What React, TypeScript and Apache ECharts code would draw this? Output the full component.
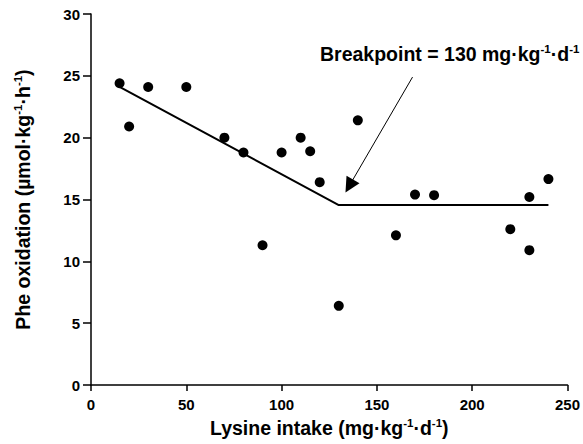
import React, { useEffect, useRef } from "react";
import * as echarts from "echarts";

const lysineIntake = [15, 20, 30, 50, 70, 80, 90, 100, 110, 115, 120, 130, 140, 160, 170, 180, 220, 230, 230, 240];
const pheOxidation = [24.4, 20.9, 24.1, 24.1, 20.0, 18.8, 11.3, 18.8, 20.0, 18.9, 16.4, 6.4, 21.4, 12.1, 15.4, 15.35, 12.6, 15.2, 10.9, 16.65];
const fitX = [15, 130, 240];
const fitY = [24.1, 14.55, 14.55];
const arrowFrom = [168.7, 24.9];
const arrowTo = [135.5, 16.1];
const xTicks = [0, 250, 50];
const yTicks = [0, 30, 5];

const FONT = "Liberation Sans";
const TITLE_SIZE = 19.5;
const richStyles = {
  m: { fontFamily: FONT, fontWeight: "bold", fontSize: TITLE_SIZE, color: "#000", lineHeight: 22, verticalAlign: "middle" },
  s: { fontFamily: FONT, fontWeight: "bold", fontSize: 11.5, color: "#000", lineHeight: 11, verticalAlign: "top" },
};

export default function App() {
  const ref = useRef<HTMLDivElement>(null);
  useEffect(() => {
    if (!ref.current) return;
    const chart = echarts.init(ref.current, null, { renderer: "svg" });
    const axisCommon = {
      axisLine: { show: true, lineStyle: { color: "#000", width: 1.5 } },
      splitLine: { show: false },
      nameTextStyle: { fontFamily: FONT, fontWeight: "bold", fontSize: TITLE_SIZE, color: "#000", rich: richStyles },
    };
    chart.setOption({
      animation: false,
      grid: { left: 91, right: 15, top: 14, bottom: 59 },
      xAxis: {
        ...axisCommon,
        type: "value",
        min: xTicks[0],
        max: xTicks[1],
        interval: xTicks[2],
        name: "{m|Lysine intake (mg·kg}{s|-1}{m|·d}{s|-1}{m|)}",
        nameLocation: "middle",
        nameGap: 31,
        axisTick: { show: true, length: 6, lineStyle: { color: "#000", width: 1.5 } },
        axisLabel: { fontFamily: FONT, fontWeight: "bold", fontSize: 15, color: "#000", margin: 12 },
      },
      yAxis: {
        ...axisCommon,
        type: "value",
        min: yTicks[0],
        max: yTicks[1],
        interval: yTicks[2],
        name: "{m|Phe oxidation (µmol·kg}{s|-1}{m|·h}{s|-1}{m|)}",
        nameLocation: "middle",
        nameRotate: 90,
        nameGap: 57,
        axisTick: { show: true, length: 8, lineStyle: { color: "#000", width: 1.5 } },
        axisLabel: { fontFamily: FONT, fontWeight: "bold", fontSize: 15, color: "#000", margin: 11 },
      },
      series: [
        {
          type: "line",
          data: fitX.map((x, i) => [x, fitY[i]]),
          symbol: "none",
          lineStyle: { color: "#000", width: 2 },
          silent: true,
          markLine: {
            silent: true,
            symbol: ["none", "triangle"],
            symbolSize: 15,
            label: { show: false },
            lineStyle: { color: "#000", width: 1, type: "solid" },
            itemStyle: { color: "#000" },
            data: [[{ coord: arrowFrom }, { coord: arrowTo }]],
          },
        },
        {
          type: "scatter",
          data: lysineIntake.map((x, i) => [x, pheOxidation[i]]),
          symbol: "circle",
          symbolSize: 10,
          itemStyle: { color: "#000", opacity: 1 },
        },
      ],
      graphic: [
        {
          type: "text",
          x: 320,
          y: 43,
          style: {
            text: "{m|Breakpoint = 130 mg·kg}{s|-1}{m|·d}{s|-1}",
            rich: richStyles,
            fontFamily: FONT,
            fontWeight: "bold",
            fontSize: TITLE_SIZE,
            fill: "#000",
          },
        },
      ],
    });
    return () => chart.dispose();
  }, []);
  return <div ref={ref} style={{ width: 583, height: 444, position: "absolute", left: 0, top: 0 }} />;
}
